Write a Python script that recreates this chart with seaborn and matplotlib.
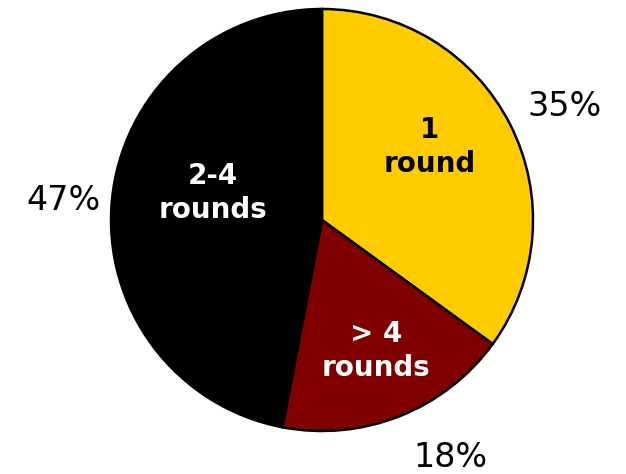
import matplotlib
matplotlib.use("Agg")
import matplotlib.pyplot as plt
import seaborn as sns
import numpy as np

sns.set_theme(style="white")
plt.rcParams['font.family'] = ['DejaVu Sans']

categories = ["1\nround", "> 4\nrounds", "2-4\nrounds"]
values = [35, 18, 47]
pct_labels = ["35%", "18%", "47%"]
colors = ["#FFCC00", "#800000", "#000000"]
text_colors = ["black", "white", "white"]

W, H = 626, 474
cx, cy, R = 322, 220, 211
fig = plt.figure(figsize=(W / 100, H / 100), dpi=100)
ax = fig.add_axes([0, 0, 1, 1])

wedges, _ = ax.pie(values, colors=colors, startangle=90, counterclock=False,
                   radius=1.0, wedgeprops=dict(edgecolor="black", linewidth=1.8))

# label placement (radius fraction, angle degrees) for inner and outer texts
inner_pos = [(0.618, 34.1), (0.672, -67.6), (0.532, 166.1)]
outer_pos = [(1.268, 25.0), (1.28, -61.5), (1.228, 175.6)]
for cat, pct, tc, (ri, ai), (ro, ao) in zip(categories, pct_labels, text_colors, inner_pos, outer_pos):
    ax.text(ri * np.cos(np.radians(ai)), ri * np.sin(np.radians(ai)), cat,
            ha="center", va="center", color=tc,
            fontsize=20, fontweight="bold", linespacing=1.26)
    ax.text(ro * np.cos(np.radians(ao)), ro * np.sin(np.radians(ao)), pct,
            ha="center", va="center", color="black", fontsize=24)

ax.set_xlim(-cx / R, (W - cx) / R)
ax.set_ylim(-(H - cy) / R, cy / R)
ax.set_aspect("auto")
ax.axis("off")
fig.savefig("out.png", dpi=100)
